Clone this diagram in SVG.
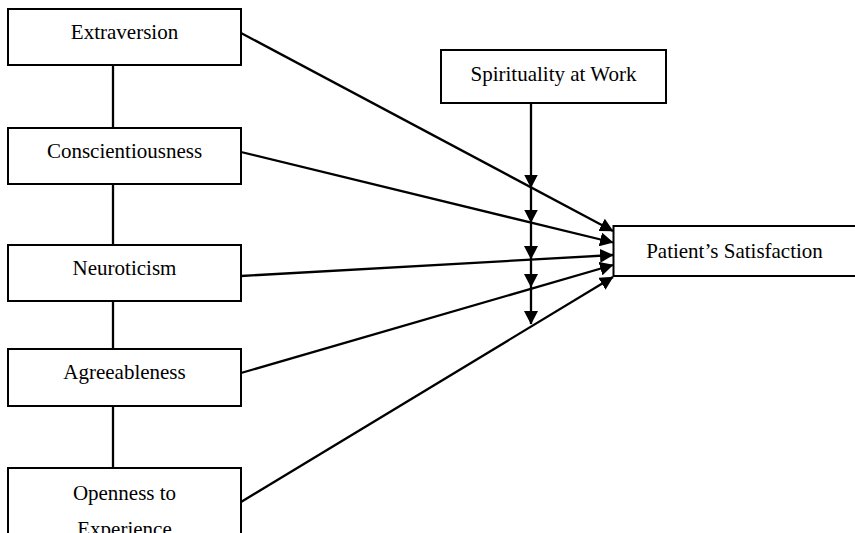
<svg xmlns="http://www.w3.org/2000/svg" width="855" height="533" viewBox="0 0 855 533">
<style>
.box{fill:#fff;stroke:#000;stroke-width:2}
.lbl{font-family:"Liberation Serif","Times New Roman",serif;font-size:21px;fill:#000;text-anchor:middle}
.ln{stroke:#000;stroke-width:2.3;fill:none}
.arr{marker-end:url(#ah)}
</style>
<defs>
<marker id="ah" markerUnits="userSpaceOnUse" markerWidth="14" markerHeight="14" refX="13" refY="7" orient="auto" viewBox="0 0 14 14">
<path d="M0,0 L13.5,7 L0,14 z" fill="#000"/>
</marker>
</defs>
<rect width="855" height="533" fill="#fff"/>
<g id="connectors">
<line class="ln" x1="113" y1="65" x2="113" y2="128"/>
<line class="ln" x1="113" y1="184" x2="113" y2="245"/>
<line class="ln" x1="113" y1="301" x2="113" y2="349"/>
<line class="ln" x1="113" y1="406" x2="113" y2="468"/>
<line class="ln arr" x1="241" y1="33" x2="613" y2="231"/>
<line class="ln arr" x1="241" y1="152" x2="613" y2="242.5"/>
<line class="ln arr" x1="241" y1="276" x2="613" y2="255"/>
<line class="ln arr" x1="241" y1="373" x2="613" y2="265"/>
<line class="ln arr" x1="241" y1="502" x2="613" y2="277"/>
<line class="ln arr" x1="531" y1="103" x2="531" y2="187.5"/>
<line class="ln arr" x1="531" y1="187.5" x2="531" y2="222.5"/>
<line class="ln arr" x1="531" y1="222.5" x2="531" y2="259"/>
<line class="ln arr" x1="531" y1="259" x2="531" y2="287"/>
<line class="ln arr" x1="531" y1="287" x2="531" y2="324"/>
</g>
<g id="extraversion">
<rect class="box" x="8" y="9" width="233" height="56"/>
<text class="lbl" x="124.5" y="39">Extraversion</text>
</g>
<g id="conscientiousness">
<rect class="box" x="8" y="128" width="233" height="56"/>
<text class="lbl" x="124.5" y="157.5">Conscientiousness</text>
</g>
<g id="neuroticism">
<rect class="box" x="8" y="245" width="233" height="56"/>
<text class="lbl" x="124.5" y="274.5">Neuroticism</text>
</g>
<g id="agreeableness">
<rect class="box" x="8" y="349" width="233" height="57"/>
<text class="lbl" x="124.5" y="379">Agreeableness</text>
</g>
<g id="openness">
<rect class="box" x="8" y="468" width="233" height="90"/>
<text class="lbl" x="124.5" y="499.5">Openness to</text>
<text class="lbl" x="124.5" y="536">Experience</text>
</g>
<g id="spirituality">
<rect class="box" x="441" y="50" width="225" height="53"/>
<text class="lbl" x="553.5" y="80.5">Spirituality at Work</text>
</g>
<g id="satisfaction">
<rect class="box" x="613.5" y="226" width="260" height="50"/>
<text class="lbl" x="734.5" y="258">Patient’s Satisfaction</text>
</g>
</svg>
